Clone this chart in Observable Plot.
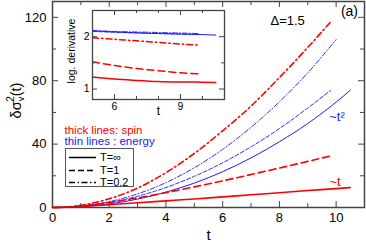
<!DOCTYPE html>
<html><head><meta charset="utf-8">
<script src="https://cdn.jsdelivr.net/npm/d3@7"></script>
<script src="https://cdn.jsdelivr.net/npm/@observablehq/plot@0.6"></script>
<style>
body{margin:0;background:#fff;font-family:"Liberation Sans",Arial,sans-serif}
#wrap{position:relative;width:366px;height:245px;overflow:hidden;background:#fff}
#wrap > svg{position:absolute}
#legend{position:absolute;left:65px;top:148px;width:69px;height:39px;border:1px solid #555;background:#fff;box-sizing:border-box}
.row{position:absolute;left:2px;height:12px;font-size:11px;line-height:12px;white-space:nowrap}
.row svg{position:absolute;left:0;top:0}
.row span{position:absolute;left:32px;top:0}
</style></head><body><div id="wrap"></div><script>
// ---- main panel data (t, delta sigma^2) ----
const spinInfT  = [0,0.5,1,2,3,4,5,6,7,8,9,10,10.5];
const spinInfV  = [0,0.25,0.7,1.8,2.95,4.2,5.4,6.7,8.0,9.3,10.7,11.9,12.6];
const spinT1T   = [0,0.5,1,2,3,4,5,6,7,8,9,9.8];
const spinT1V   = [0,0.25,1.0,3.2,6.1,9.4,13.0,16.8,20.8,24.9,29.1,32.5];
const spinT02T  = [0,0.5,1,2,3,4,5,6,7,8,9,9.8];
const spinT02V  = [0,0.35,1.4,5.5,12.3,22.0,34.1,48.4,64,82,101,117];
const enInfT    = [0,0.5,1,2,3,4,5,6,7,8,9,10,10.5];
const enInfV    = [0,0.13,0.53,2.25,5.3,9.7,15.4,22.6,31.3,41.5,53,66.5,74];
const enT1T     = [0,0.5,1,2,3,4,5,6,7,8,9,9.8];
const enT1V     = [0,0.2,0.79,3.15,7.1,12.6,19.7,28.2,38.3,49.8,62.8,73.8];
const enT02T    = [0,0.5,1,2,3,4,5,6,7,8,9,10];
const enT02V    = [0,0.2,0.83,3.7,8.6,15.7,25.1,36.7,50.6,66.7,85,106];
// ---- inset data (t, log derivative) ----
const insLongT  = [5,6,7,8,9,10,10.6];
const insShortT = [5,6,7,8,9,9.8];
const ldSpinInf = [1.23,1.19,1.165,1.145,1.135,1.13,1.125];
const ldSpinT1  = [1.52,1.45,1.39,1.35,1.31,1.29];
const ldSpinT02 = [1.98,1.95,1.92,1.89,1.86,1.84];
const ldEnInf   = [2.11,2.09,2.075,2.06,2.05,2.04,2.03];
const ldEnT1    = [2.10,2.085,2.07,2.06,2.05,2.045];
const ldEnT02   = [2.12,2.10,2.09,2.08,2.07,2.06];
// ---- ticks ----
const xMajor = [0,2,4,6,8,10], xMinor = [1,3,5,7,9];
const yMajor = [0,40,80,120], yMinor = [20,60,100];
const ixMajor = [6,9], ixMinor = [5,7,8,10];
const iyMajor = [1,2], iyMinor = [1.5];
const legendRows = [["T=∞","none"],["T=1","6,3"],["T=0.2","6,2.5,1.5,2.5"]];

const RED = "#ff0000", BLUE = "#1a1aff", FONT = "Liberation Sans, Arial, sans-serif";
const pairs = (T, V) => T.map((t, i) => ({t, v: V[i]}));
const fmt = d => String(d);

function frameTicks(xM, xm, yM, ym, fw, fh, lM, lm, stroke) {
  return [
    Plot.ruleX(xM, {x: d => d, insetTop: fh - lM, stroke}),
    Plot.ruleX(xm, {x: d => d, insetTop: fh - lm, stroke}),
    Plot.ruleX(xM, {x: d => d, insetBottom: fh - lM, stroke}),
    Plot.ruleX(xm, {x: d => d, insetBottom: fh - lm, stroke}),
    Plot.ruleY(yM, {y: d => d, insetRight: fw - lM, stroke}),
    Plot.ruleY(ym, {y: d => d, insetRight: fw - lm, stroke}),
    Plot.ruleY(yM, {y: d => d, insetLeft: fw - lM, stroke}),
    Plot.ruleY(ym, {y: d => d, insetLeft: fw - lm, stroke})
  ];
}

const W = 366, H = 245, mL = 52, mR = 2, mT = 1, mB = 38;
const fw = W - mL - mR, fh = H - mT - mB;
const lineOpt = (stroke, w, dash) => ({x: "t", y: "v", stroke, strokeWidth: w, strokeDasharray: dash, curve: "monotone-x"});

const main = Plot.plot({
  width: W, height: H, marginLeft: mL, marginRight: mR, marginTop: mT, marginBottom: mB,
  x: {domain: [0, 11]}, y: {domain: [0, 130]},
  style: {fontFamily: FONT, fontSize: "12px", background: "transparent", color: "#000"},
  marks: [
    Plot.line(pairs(enInfT, enInfV), lineOpt(BLUE, 1, null)),
    Plot.line(pairs(enT1T, enT1V), lineOpt(BLUE, 0.9, "4,2")),
    Plot.line(pairs(enT02T, enT02V), lineOpt(BLUE, 0.9, "5,2,1,2")),
    Plot.line(pairs(spinInfT, spinInfV), lineOpt(RED, 1.6, null)),
    Plot.line(pairs(spinT1T, spinT1V), lineOpt(RED, 1.6, "7,4")),
    Plot.line(pairs(spinT02T, spinT02V), lineOpt(RED, 1.6, "6,3,1.5,3")),
    ...frameTicks(xMajor, xMinor, yMajor, yMinor, fw, fh, 6, 4, "#444"),
    Plot.frame({stroke: "#444", strokeWidth: 1.5}),
    Plot.axisX({ticks: xMajor, tickSize: 0, tickPadding: 5, label: null, fontSize: 13, tickFormat: fmt}),
    Plot.axisY({ticks: yMajor, tickSize: 0, tickPadding: 6, label: null, fontSize: 13, tickFormat: fmt}),
    Plot.text(["t"], {text: d => d, frameAnchor: "bottom", dy: 32, fontSize: 15}),
    Plot.text(["YLABEL"], {text: d => d, frameAnchor: "left", textAnchor: "middle", dx: -36, dy: -4, rotate: -90, fontSize: 14.5}),
    Plot.text(["thick lines: spin"], {text: d => d, frameAnchor: "top-left", dx: 12, dy: 124, lineAnchor: "top", textAnchor: "start", fontSize: 11.5, fill: RED}),
    Plot.text(["thin lines : energy"], {text: d => d, frameAnchor: "top-left", dx: 12, dy: 135.5, lineAnchor: "top", textAnchor: "start", fontSize: 11.5, fill: BLUE}),
    Plot.text([{x: 8.29, y: 117.7, s: "Δ=1.5"}], {x: "x", y: "y", text: "s", fontSize: 13}),
    Plot.text([{x: 10.47, y: 123.7, s: "(a)"}], {x: "x", y: "y", text: "s", fontSize: 14}),
    Plot.text([{x: 10.03, y: 57.4, s: "~t²"}], {x: "x", y: "y", text: "s", fontSize: 13, fill: BLUE}),
    Plot.text([{x: 9.96, y: 16.4, s: "~t"}], {x: "x", y: "y", text: "s", fontSize: 13, fill: RED})
  ]
});
main.style.left = "0px"; main.style.top = "0px";

// y label with sub/superscripts
main.querySelectorAll("text").forEach(t => {
  if (t.textContent === "YLABEL") {
    t.textContent = "";
    const add = (s, attrs) => {
      const ts = document.createElementNS("http://www.w3.org/2000/svg", "tspan");
      ts.textContent = s;
      for (const k in attrs) ts.setAttribute(k, attrs[k]);
      t.appendChild(ts);
    };
    add("δσ", {});
    add("v", {dy: 3, "font-size": 9});
    add("2", {dx: -5, dy: -10, "font-size": 10});
    add("(t)", {dy: 7});
  }
});

// ---- inset ----
const iL = 60, iTop = 4, iW = 170, iH = 122;
const imL = 32, imR = 6, imT = 6, imB = 27;
const ifw = iW - imL - imR, ifh = iH - imT - imB;
const inset = Plot.plot({
  width: iW, height: iH, marginLeft: imL, marginRight: imR, marginTop: imT, marginBottom: imB,
  x: {domain: [5, 11]}, y: {domain: [0.8, 2.5]},
  style: {fontFamily: FONT, fontSize: "10px", background: "transparent", color: "#000"},
  marks: [
    Plot.frame({fill: "white"}),
    Plot.line(pairs(insShortT, ldEnT02), lineOpt(BLUE, 0.9, "5,2,1,2")),
    Plot.line(pairs(insShortT, ldEnT1), lineOpt(BLUE, 0.9, "4,2")),
    Plot.line(pairs(insLongT, ldEnInf), lineOpt(BLUE, 1, null)),
    Plot.line(pairs(insLongT, ldSpinInf), lineOpt(RED, 1.5, null)),
    Plot.line(pairs(insShortT, ldSpinT1), lineOpt(RED, 1.5, "7,4")),
    Plot.line(pairs(insShortT, ldSpinT02), lineOpt(RED, 1.5, "6,3,1.5,3")),
    ...frameTicks(ixMajor, ixMinor, iyMajor, iyMinor, ifw, ifh, 5, 3, "#444"),
    Plot.frame({stroke: "#444", strokeWidth: 1.3}),
    Plot.axisX({ticks: ixMajor, tickSize: 0, tickPadding: 3, label: null, fontSize: 10.5, tickFormat: fmt}),
    Plot.axisY({ticks: iyMajor, tickSize: 0, tickPadding: 3, label: null, fontSize: 10.5, tickFormat: fmt}),
    Plot.text(["t"], {text: d => d, frameAnchor: "bottom", dy: 15, fontSize: 12}),
    Plot.text(["log. derivative"], {text: d => d, frameAnchor: "left", textAnchor: "middle", dx: -21, dy: -4, rotate: -90, fontSize: 10.5})
  ]
});
inset.style.left = iL + "px"; inset.style.top = iTop + "px";

const wrap = document.getElementById("wrap");
wrap.appendChild(main);
wrap.appendChild(inset);

// legend box
const leg = document.createElement("div");
leg.id = "legend";
legendRows.forEach(([label, dash], i) => {
  const r = document.createElement("div");
  r.className = "row";
  r.style.top = (2 + i * 12.5) + "px";
  r.innerHTML = `<svg width="28" height="12"><line x1="1" x2="28" y1="6.5" y2="6.5" stroke="#000" stroke-width="1.5" ${dash === "none" ? "" : `stroke-dasharray="${dash}"`}/></svg><span>${label}</span>`;
  leg.appendChild(r);
});
wrap.appendChild(leg);
</script></body></html>
